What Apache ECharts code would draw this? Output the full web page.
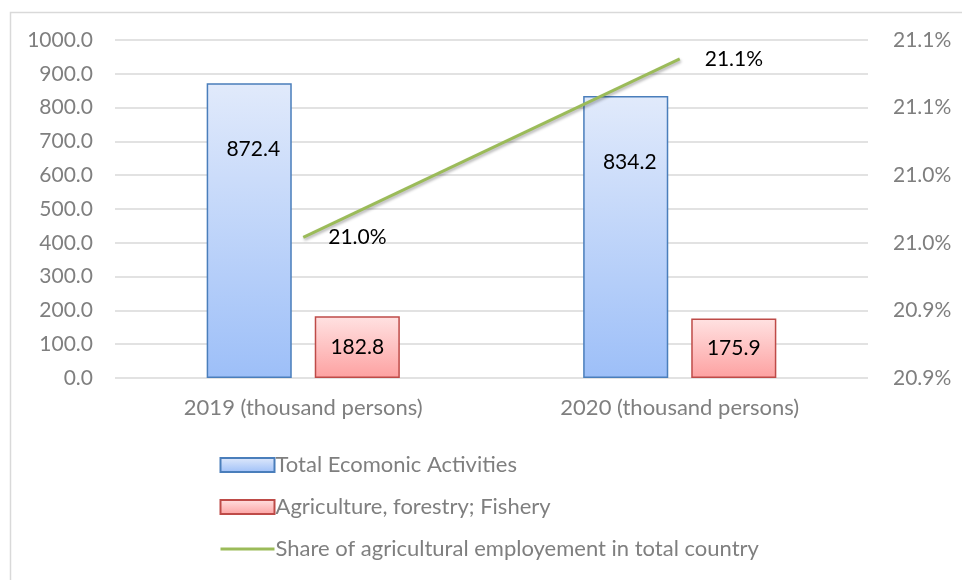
<!DOCTYPE html>
<html>
<head>
<meta charset="utf-8">
<script src="https://cdn.jsdelivr.net/npm/echarts@6/dist/echarts.min.js"></script>
<style>
  html, body { margin: 0; padding: 0; background: #fff; }
  #chart { width: 962px; height: 580px; }
</style>
</head>
<body>
<div id="chart"></div>
<script>
// Employment figures, thousand persons, and the agricultural share (%)
const categories = ['2019 (thousand persons)', '2020 (thousand persons)'];
const totalActivities = [872.4, 834.2];
const agriculture = [182.8, 175.9];
const agriShare = [20.954, 21.086];
const seriesNames = [
  'Total Ecomonic Activities',
  'Agriculture, forestry; Fishery',
  'Share of agricultural employement in total country'
];
const leftTickLabels = ['0.0', '100.0', '200.0', '300.0', '400.0', '500.0', '600.0', '700.0', '800.0', '900.0', '1000.0'];
const rightTickLabels = ['20.9%', '20.9%', '21.0%', '21.0%', '21.1%', '21.1%'];

const FONT = 'Lato';
const AXIS_GREY = '#7f7f7f';
const LINE_GREEN = '#9bbb59';

const chart = echarts.init(document.getElementById('chart'), null, { renderer: 'canvas' });

const blueFill = new echarts.graphic.LinearGradient(0, 0, 0, 1, [
  { offset: 0, color: '#e1eafb' },
  { offset: 1, color: '#9dbff8' }
]);
const redFill = new echarts.graphic.LinearGradient(0, 0, 0, 1, [
  { offset: 0, color: '#ffe2e2' },
  { offset: 1, color: '#fda1a1' }
]);

chart.setOption({
  backgroundColor: '#ffffff',
  animation: false,
  textStyle: { fontFamily: FONT },
  graphic: [{
    type: 'rect',
    left: 8, top: 10,
    shape: { width: 1000, height: 1000 },
    style: { fill: 'none', stroke: '#d9d9d9', lineWidth: 1.5 },
    silent: true
  }],
  grid: { left: 115, right: 94, top: 40, bottom: 202, containLabel: false },
  legend: {
    orient: 'vertical',
    left: 214, top: 449,
    itemGap: 20,
    itemWidth: 54, itemHeight: 14,
    textStyle: { fontFamily: FONT, fontSize: 22, color: AXIS_GREY, padding: [0, 0, 0, -4] },
    data: [
      { name: seriesNames[0], icon: 'rect' },
      { name: seriesNames[1], icon: 'rect' },
      { name: seriesNames[2], itemStyle: { opacity: 0 }, lineStyle: { color: LINE_GREEN, width: 3 } }
    ]
  },
  xAxis: {
    type: 'category',
    data: categories,
    axisLine: { show: false },
    axisTick: { show: false },
    axisLabel: { color: AXIS_GREY, fontSize: 22, fontFamily: FONT, margin: 19 }
  },
  yAxis: [{
    type: 'value',
    min: 0, max: 1000, interval: 100,
    axisLine: { show: false },
    axisTick: { show: false },
    splitLine: { lineStyle: { color: '#d9d9d9', width: 1.5 } },
    axisLabel: {
      color: AXIS_GREY, fontSize: 21, fontFamily: FONT, margin: 22,
      formatter: (v, i) => leftTickLabels[i]
    }
  }, {
    type: 'value',
    min: 20.85, max: 21.10, interval: 0.05,
    axisLine: { show: false },
    axisTick: { show: false },
    splitLine: { show: false },
    axisLabel: {
      color: AXIS_GREY, fontSize: 21, fontFamily: FONT, margin: 25,
      formatter: (v, i) => rightTickLabels[i]
    }
  }],
  series: [{
    name: seriesNames[0],
    type: 'bar',
    data: totalActivities,
    barWidth: '22.6%',
    barGap: '27%',
    itemStyle: { color: blueFill, borderColor: '#4a7ebb', borderWidth: 1.5 },
    label: {
      show: true, position: 'insideTop', distance: 56, offset: [4, 0],
      color: '#000', fontSize: 21, fontFamily: FONT,
      formatter: p => p.value.toFixed(1)
    }
  }, {
    name: seriesNames[1],
    type: 'bar',
    data: agriculture,
    barWidth: '22.6%',
    itemStyle: { color: redFill, borderColor: '#be4b48', borderWidth: 1.5 },
    label: {
      show: true, position: 'inside',
      color: '#000', fontSize: 21, fontFamily: FONT,
      formatter: p => p.value.toFixed(1)
    }
  }, {
    name: seriesNames[2],
    type: 'line',
    yAxisIndex: 1,
    data: agriShare,
    symbol: 'circle',
    symbolSize: 2,
    showSymbol: true,
    lineStyle: {
      color: LINE_GREEN, width: 3,
      shadowColor: 'rgba(0,0,0,0.3)', shadowBlur: 3, shadowOffsetY: 2, shadowOffsetX: 1
    },
    itemStyle: { color: 'rgba(0,0,0,0)' },
    label: {
      show: true, position: 'right', distance: 24,
      color: '#000', fontSize: 21, fontFamily: FONT,
      formatter: p => p.value.toFixed(1) + '%'
    }
  }]
});
</script>
</body>
</html>
